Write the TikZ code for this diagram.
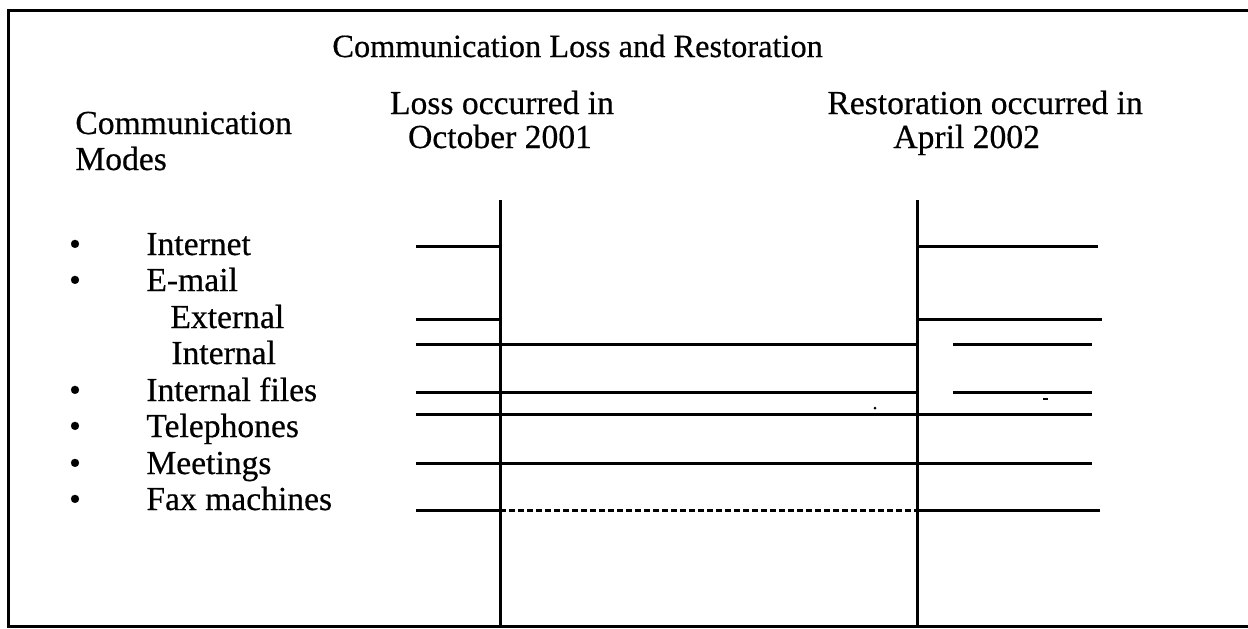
\documentclass[tikz,border=0pt]{standalone}
\usepackage{fontspec}
\setmainfont{Liberation Serif}
\newfontfamily\heavyserif[FakeBold=0.5]{Liberation Serif}
\begin{document}
\begin{tikzpicture}[x=0.5pt,y=-0.5pt,
  txt/.style={inner sep=0pt, anchor=base west, font=\heavyserif\fontsize{16.8}{18}\selectfont},
  ctxt/.style={inner sep=0pt, anchor=base, font=\heavyserif\fontsize{16.8}{18}\selectfont},
  ttxt/.style={inner sep=0pt, anchor=base west, font=\heavyserif\fontsize{16.2}{18}\selectfont},
  frame/.style={line width=1.5pt},
  vline/.style={line width=1.5pt},
  hline/.style={line width=1.5pt},
  dline/.style={line width=1.5pt, dash pattern=on 3pt off 1.5pt}]
\useasboundingbox (0,0) rectangle (1248,628);
% frame (open on the right)
\coordinate (fTR) at (1248,10);
\coordinate (fTL) at (8,10);
\coordinate (fBL) at (8,626);
\coordinate (fBR) at (1248,626);
\draw[frame] (fTR) -- (fTL) -- (fBL) -- (fBR);
% headings
\node[ttxt] (title) at (332,57) {Communication Loss and Restoration};
\node[txt] (cm1) at (75,134) {Communication};
\node[txt] (cm2) at (75,170) {Modes};
\node[ctxt] (loss1) at (502,114) {Loss occurred in};
\node[ctxt] (loss2) at (500,148) {October 2001};
\node[txt] (res1) at (827,114) {Restoration occurred in};
\node[txt] (res2) at (893,148) {April 2002};
% list
\foreach \y/\n in {255/b1,291/b2,401/b3,437/b4,474/b5,510/b6}
  \node[ctxt] (\n) at (75,\y) {\textbullet};
\node[txt] (internet) at (146,255) {Internet};
\node[txt] (email) at (146,291) {E-mail};
\node[txt] (external) at (170,328) {External};
\node[txt] (internal) at (171,364) {Internal};
\node[txt] (files) at (146,401) {Internal files};
\node[txt] (tel) at (146,437) {Telephones};
\node[txt] (meet) at (146,474) {Meetings};
\node[txt] (fax) at (146,510) {Fax machines};
% vertical time lines
\coordinate (lossT) at (500,200);
\coordinate (lossB) at (500,626);
\coordinate (resT) at (917,200);
\coordinate (resB) at (917,626);
\draw[vline] (lossT) -- (lossB);
\draw[vline] (resT) -- (resB);
% Internet
\coordinate (a1) at (416,246); \coordinate (a2) at (500,246);
\coordinate (a3) at (917,246); \coordinate (a4) at (1098,246);
\draw[hline] (a1) -- (a2); \draw[hline] (a3) -- (a4);
% External
\coordinate (e1) at (416,319); \coordinate (e2) at (500,319);
\coordinate (e3) at (917,319); \coordinate (e4) at (1102,319);
\draw[hline] (e1) -- (e2); \draw[hline] (e3) -- (e4);
% Internal
\coordinate (i1) at (416,344); \coordinate (i2) at (917,344);
\coordinate (i3) at (953,344); \coordinate (i4) at (1092,344);
\draw[hline] (i1) -- (i2); \draw[hline] (i3) -- (i4);
% Internal files
\coordinate (f1) at (416,392); \coordinate (f2) at (917,392);
\coordinate (f3) at (953,392); \coordinate (f4) at (1092,392);
\draw[hline] (f1) -- (f2); \draw[hline] (f3) -- (f4);
% Telephones
\coordinate (t1) at (416,414); \coordinate (t2) at (1092,414);
\draw[hline] (t1) -- (t2);
% Meetings
\coordinate (m1) at (416,463); \coordinate (m2) at (1092,463);
\draw[hline] (m1) -- (m2);
% Fax machines
\coordinate (x1) at (416,510); \coordinate (x2) at (500,510);
\coordinate (x3) at (917,510); \coordinate (x4) at (1100,510);
\draw[hline] (x1) -- (x2);
\draw[dline] (x2) -- (x3);
\draw[hline] (x3) -- (x4);
% small specks
\fill (875,408) circle (1.5);
\fill (1043,398) rectangle (1048,400);
\end{tikzpicture}
\end{document}
